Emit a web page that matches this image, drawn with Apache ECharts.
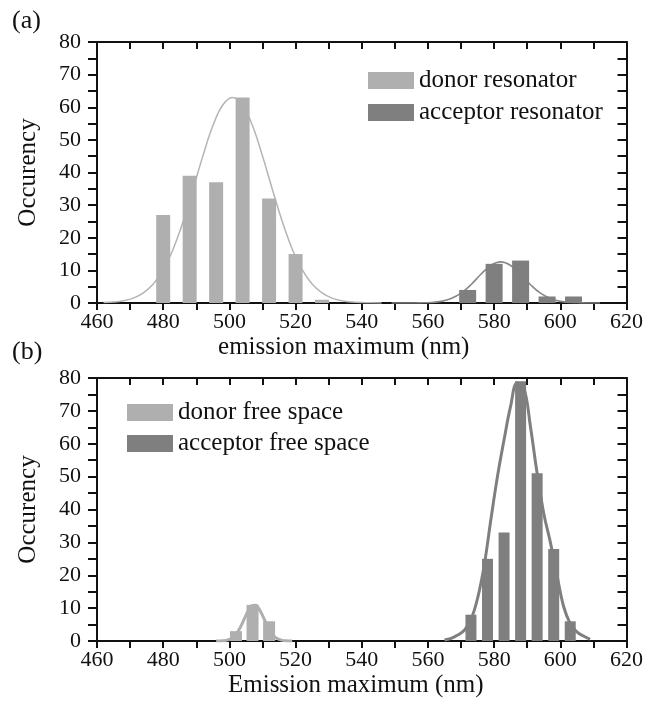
<!DOCTYPE html>
<html>
<head>
<meta charset="utf-8">
<script src="https://cdn.jsdelivr.net/npm/echarts@6/dist/echarts.min.js"></script>
<style>
html, body { margin: 0; padding: 0; background: #fff; }
#chart { width: 646px; height: 707px; }
</style>
</head>
<body>
<div id="chart"></div>
<script>
// Histogram bins (bin centre in nm) and counts
const donorResX = [480, 488, 496, 504, 512, 520, 528];
const donorResY = [27, 39, 37, 63, 32, 15, 1];
const acceptorResX = [572, 580, 588, 596, 604];
const acceptorResY = [4, 12, 13, 2, 2];
const donorFreeX = [502, 507, 512];
const donorFreeY = [3, 11, 6];
const acceptorFreeX = [573, 578, 583, 588, 593, 598, 603];
const acceptorFreeY = [8, 25, 33, 79, 51, 28, 6];

// Fitted distribution curves (wavelength in nm, occurrence)
const donorResFitX = [462, 465, 468, 471, 474, 477, 480, 483, 486, 489, 492, 495, 498, 501, 504, 507, 510, 513, 516, 519, 522, 525, 528, 531, 534, 537, 540, 543, 546];
const donorResFitY = [0.12, 0.3, 0.7, 1.5, 3.1, 5.8, 10.2, 16.5, 24.9, 34.8, 45.1, 54.3, 60.7, 63, 60.7, 54.3, 45.1, 34.8, 24.9, 16.5, 10.2, 5.8, 3.1, 1.5, 0.7, 0.3, 0.12, 0.04, 0.01];
const acceptorResFitX = [549, 552, 555, 558, 561, 564, 567, 570, 573, 576, 579, 582, 585, 588, 591, 594, 597, 600, 603, 606, 609, 612];
const acceptorResFitY = [0, 0, 0.01, 0.04, 0.16, 0.5, 1.35, 3.0, 5.6, 8.8, 11.5, 12.6, 11.5, 8.8, 5.6, 3.0, 1.35, 0.5, 0.16, 0.04, 0.01, 0];
const donorFreeFitX = [496, 497, 498, 499, 500, 501, 502, 503, 504, 505, 506, 507, 508, 509, 510, 511, 512, 513, 514, 515, 516, 517, 518, 519];
const donorFreeFitY = [0, 0.02, 0.07, 0.2, 0.5, 1.0, 2.0, 3.6, 5.6, 7.8, 9.7, 10.8, 10.9, 9.7, 7.8, 5.6, 3.6, 2.0, 1.0, 0.5, 0.2, 0.07, 0.02, 0];
const acceptorFreeFitX = [565, 567, 569, 571, 573, 575, 577, 579, 581, 583, 585, 587, 589, 591, 593, 595, 597, 599, 601, 603, 605, 607, 609];
const acceptorFreeFitY = [0.3, 0.8, 1.8, 3.3, 6.5, 13, 23, 36.8, 50, 61.2, 71.5, 78.5, 77, 65, 51, 38.8, 30, 20, 10.5, 5.3, 2.8, 1.5, 0.5];

// Axis ranges and tick labels
const xMin = 460, xMax = 620, xStep = 10;
const xLabels = [460, 480, 500, 520, 540, 560, 580, 600, 620];
const yMin = 0, yMax = 80, yStep = 10;

const names = {
  donorRes: 'donor resonator',
  acceptorRes: 'acceptor resonator',
  donorFree: 'donor free space',
  acceptorFree: 'acceptor free space'
};

const LIGHT = '#afafaf';
const DARK = '#7f7f7f';
const INK = '#111';
const FONT = '"Liberation Serif", "DejaVu Serif", serif';

const zip = (xs, ys) => xs.map((x, i) => [x, ys[i]]);

const lineStyle = { color: INK, width: 2 };

function bottomX(gridIndex, title, shiftLeft) {
  return {
    type: 'value', gridIndex, position: 'bottom',
    min: xMin, max: xMax, interval: xStep,
    axisLine: { show: true, onZero: false, lineStyle },
    axisTick: { show: true, length: 7, lineStyle },
    splitLine: { show: false },
    axisLabel: {
      margin: 8, color: INK, fontFamily: FONT, fontSize: 22,
      formatter: v => xLabels.indexOf(v) >= 0 ? String(v) : ''
    },
    name: title, nameLocation: 'middle', nameGap: 32,
    nameTextStyle: {
      color: INK, fontFamily: FONT, fontSize: 25,
      padding: [0, shiftLeft * 2, 0, 0]
    }
  };
}
function topX(gridIndex) {
  return {
    type: 'value', gridIndex, position: 'top',
    min: xMin, max: xMax, interval: xStep,
    axisLine: { show: true, onZero: false, lineStyle },
    axisTick: { show: true, inside: true, length: 7, lineStyle },
    splitLine: { show: false },
    axisLabel: { show: false }
  };
}
function leftY(gridIndex) {
  return {
    type: 'value', gridIndex, position: 'left',
    min: yMin, max: yMax, interval: yStep,
    axisLine: { show: true, onZero: false, lineStyle },
    axisTick: { show: true, length: 9, lineStyle },
    minorTick: { show: true, splitNumber: 2, length: 9, lineStyle },
    splitLine: { show: false },
    minorSplitLine: { show: false },
    axisLabel: { margin: 16, color: INK, fontFamily: FONT, fontSize: 22 },
    name: 'Occurency', nameLocation: 'middle', nameGap: 56,
    nameTextStyle: { color: INK, fontFamily: FONT, fontSize: 25 }
  };
}
function rightY(gridIndex) {
  return {
    type: 'value', gridIndex, position: 'right',
    min: yMin, max: yMax, interval: 5,
    axisLine: { show: true, onZero: false, lineStyle },
    axisTick: { show: true, inside: true, length: 9, lineStyle },
    splitLine: { show: false },
    axisLabel: { show: false }
  };
}

function bars(name, xs, ys, color, width, xAxisIndex, yAxisIndex) {
  return {
    type: 'bar', name, xAxisIndex, yAxisIndex,
    data: zip(xs, ys), barWidth: width,
    itemStyle: { color }, z: 3, silent: true
  };
}
function fit(xs, ys, color, width, xAxisIndex, yAxisIndex) {
  return {
    type: 'line', xAxisIndex, yAxisIndex,
    data: zip(xs, ys), smooth: 0.4,
    showSymbol: false, symbol: 'none',
    lineStyle: { color, width }, z: 2, silent: true
  };
}

const legendText = { color: INK, fontFamily: FONT, fontSize: 25 };

const option = {
  animation: false,
  backgroundColor: '#fff',
  grid: [
    { left: 97, top: 42, width: 533, height: 261 },
    { left: 97, top: 378, width: 533, height: 263 }
  ],
  xAxis: [
    bottomX(0, 'emission maximum (nm)', 18), topX(0),
    bottomX(1, 'Emission maximum (nm)', 6), topX(1)
  ],
  yAxis: [leftY(0), rightY(0), leftY(1), rightY(1)],
  legend: [
    {
      data: [names.donorRes, names.acceptorRes], orient: 'vertical',
      left: 363, top: 63, itemWidth: 46, itemHeight: 17, itemGap: 7,
      icon: 'rect', textStyle: legendText, selectedMode: false
    },
    {
      data: [names.donorFree, names.acceptorFree], orient: 'vertical',
      left: 122, top: 395, itemWidth: 46, itemHeight: 17, itemGap: 6,
      icon: 'rect', textStyle: legendText, selectedMode: false
    }
  ],
  graphic: [
    { type: 'text', left: 12, top: 8, style: { text: '(a)', font: '26px "Liberation Serif"', fill: INK } },
    { type: 'text', left: 12, top: 339, style: { text: '(b)', font: '26px "Liberation Serif"', fill: INK } }
  ],
  series: [
    fit(donorResFitX, donorResFitY, '#b4b4b4', 1.5, 0, 0),
    fit(acceptorResFitX, acceptorResFitY, '#888', 1.6, 0, 0),
    bars(names.donorRes, donorResX, donorResY, LIGHT, 14, 0, 0),
    bars(names.acceptorRes, acceptorResX, acceptorResY, DARK, 17, 1, 0),

    fit(donorFreeFitX, donorFreeFitY, LIGHT, 3, 2, 2),
    fit(acceptorFreeFitX, acceptorFreeFitY, DARK, 3, 2, 2),
    bars(names.donorFree, donorFreeX, donorFreeY, LIGHT, 12, 2, 2),
    bars(names.acceptorFree, acceptorFreeX, acceptorFreeY, DARK, 11, 3, 2)
  ]
};

const chart = echarts.init(document.getElementById('chart'), null, { renderer: 'canvas' });
chart.setOption(option);
</script>
</body>
</html>
